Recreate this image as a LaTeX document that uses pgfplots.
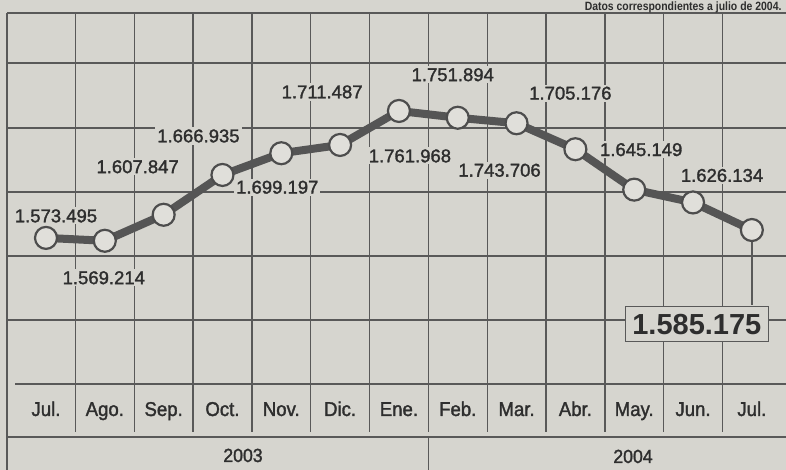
\documentclass[border=0pt]{standalone}
\usepackage{pgfplots}
\pgfplotsset{compat=1.18}
\usepackage{pgfplotstable}
\usepackage{fontspec}
\setmainfont{Liberation Sans}
\newfontfamily\titlefont{Liberation Sans}[FakeStretch=0.87]
\newfontfamily\medfont{Liberation Sans}[FakeBold=1.6]
\newfontfamily\monthfont{Liberation Sans}[FakeBold=1.6, FakeStretch=0.93]
\definecolor{paper}{HTML}{D6D5CF}
\definecolor{ink}{HTML}{2E2E2E}
\definecolor{gridc}{HTML}{595959}
\definecolor{linec}{HTML}{555555}
\definecolor{markfill}{HTML}{E0DFDA}

\pgfplotstableread{
x y lab dx dy
0 1573495 1.573.495 10 22
1 1569214 1.569.214 -1 -37
2 1607847 1.607.847 -26 48
3 1666935 1.666.935 -24 39
4 1699197 1.699.197 -4 -34
5 1711487 1.711.487 -18 53
6 1761968 1.761.968 11 -45
7 1751894 1.751.894 -5 43
8 1743706 1.743.706 -17 -47
9 1705176 1.705.176 -5 56
10 1645149 1.645.149 7 40
11 1626134 1.626.134 29 27
12 1585175 1.585.175 -55 -94
}\data

\begin{document}
\begin{tikzpicture}
\useasboundingbox (0,0) rectangle (786pt,470pt);
\fill[paper] (0,0) rectangle (786pt,470pt);
% frame and table lines
\draw[gridc, line width=1.7pt] (7pt,457pt) -- (786pt,457pt);
\draw[gridc, line width=1.7pt] (7pt,457pt) -- (7pt,0pt);
\draw[gridc, line width=1.5pt] (15pt,86pt) -- (786pt,86pt);
\draw[gridc, line width=1.5pt] (7pt,33pt) -- (786pt,33pt);
\foreach \i in {0,...,11} {
  \pgfmathsetmacro\xx{46+58.83*(\i+0.5)}
  \draw[gridc, line width=1.3pt] (\xx pt,457pt) -- (\xx pt,38pt);
}
\draw[gridc, line width=1.3pt] (428.4pt,33pt) -- (428.4pt,0pt);
% years
\node[anchor=base, text=ink, font=\monthfont\fontsize{19}{22}\selectfont] at (243pt,8pt) {2003};
\node[anchor=base, text=ink, font=\monthfont\fontsize{19}{22}\selectfont] at (633pt,7pt) {2004};
% title
\node[anchor=base east, text=ink, font=\titlefont\bfseries\fontsize{12}{14}\selectfont] at (785pt,459.5pt) {Datos correspondientes a julio de 2004.};
\begin{axis}[
  at={(7pt,86pt)}, anchor=south west,
  scale only axis, width=779pt, height=371pt,
  xmin=-0.663, xmax=12.5807,
  ymin=1356600, ymax=1907400,
  axis line style={draw=none},
  major tick length=0pt,
  scaled y ticks=false,
  ytick={1451630,1546640,1641650,1736660,1833160},
  yticklabels={},
  ymajorgrids,
  grid style={gridc, line width=1.3pt},
  xtick={0,...,12},
  xticklabels={Jul.,Ago.,Sep.,Oct.,Nov.,Dic.,Ene.,Feb.,Mar.,Abr.,May.,Jun.,Jul.},
  x tick label style={anchor=base, yshift=-32pt, text=ink, font=\monthfont\fontsize{20}{22}\selectfont},
  clip=false,
]
\draw[gridc, line width=1.3pt] (axis cs:12,1585175) -- ++(0pt,-75pt);
\addplot[linec, line width=8pt, mark=*, mark size=11pt,
  mark options={fill=markfill, draw=ink!85, line width=2.2pt}]
  table[x=x, y=y] {\data};
\addplot[draw=none, mark=none, skip coords between index={12}{13},
  point meta=explicit symbolic,
  visualization depends on={\thisrow{dx} \as \labdx},
  visualization depends on={\thisrow{dy} \as \labdy},
  nodes near coords, nodes near coords align={center},
  every node near coord/.append style={anchor=center, xshift=\labdx, yshift=\labdy,
    fill=paper, inner sep=2pt, text=ink, font=\medfont\fontsize{18.5}{20}\selectfont}]
  table[x=x, y=y, meta=lab] {\data};
\addplot[draw=none, mark=none, skip coords between index={0}{12},
  point meta=explicit symbolic,
  nodes near coords, nodes near coords align={center},
  every node near coord/.append style={anchor=center, xshift=-55pt, yshift=-94pt,
    fill=paper, draw=gridc, line width=1.4pt, inner xsep=7pt, inner ysep=7pt,
    text=ink, font=\bfseries\fontsize{29}{31}\selectfont}]
  table[x=x, y=y, meta=lab] {\data};
\end{axis}
\end{tikzpicture}
\end{document}
